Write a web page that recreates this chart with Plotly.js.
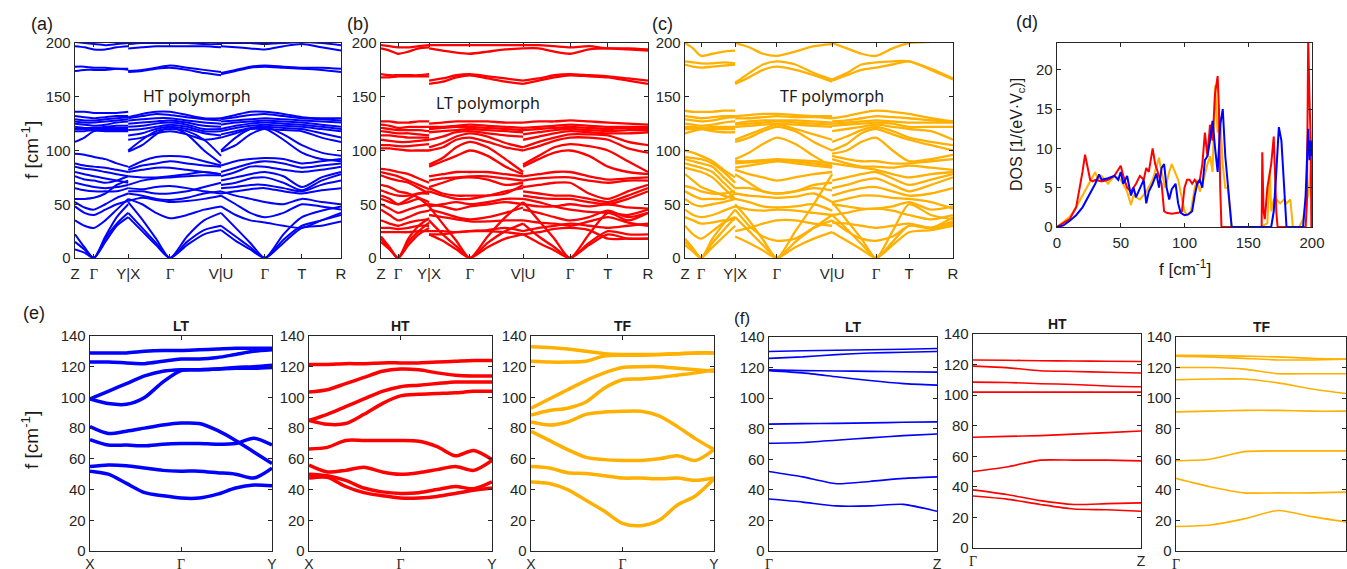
<!DOCTYPE html>
<html><head><meta charset="utf-8">
<script src="https://cdn.plot.ly/plotly-3.0.1.min.js"></script>
<style>html,body{margin:0;padding:0;background:#fff;}#plot{width:1347px;height:569px;}</style>
</head><body><div id="plot"></div>
<script>
// ---------- k-path tick positions (fraction of path) ----------
const kTicksHT = [0, 0.071, 0.2, 0.357, 0.549, 0.714, 0.853, 1];
const kTicksLT = [0, 0.064, 0.18, 0.333, 0.532, 0.708, 0.85, 1];
const kTicksTF = [0, 0.06, 0.187, 0.343, 0.549, 0.713, 0.836, 1];
const pathLabels = ["Z", "Γ", "Y|X", "Γ", "V|U", "Γ", "T", "R"];

// bands: knots Z,mid,Γ,1/3,2/3,Y | X,1/3,2/3,Γ,1/3,2/3,V | U,1/3,2/3,Γ,mid,T,mid,R
const bandsHT = [
 [22,10,0,15,30,38, 38,25,12,0,12,22,26, 26,16,8,0,14,28,30,34],
 [15,8,0,18,32,42, 42,28,14,0,15,26,30, 30,20,10,0,17,30,35,40],
 [8,5,0,20,38,50, 52,36,18,0,20,35,42, 42,28,14,0,22,38,44,48],
 [35,30,28,35,45,55, 55,50,42,37,40,45,48, 48,40,35,33,30,28,35,42],
 [48,42,40,45,50,53, 53,56,54,52,53,55,58, 58,50,42,38,42,50,48,45],
 [52,47,45,50,56,60, 60,58,55,54,56,60,62, 62,58,55,52,50,55,52,50],
 [55,55,56,60,68,72, 62,62,60,60,62,66,70, 60,62,64,65,62,60,63,65],
 [65,63,62,62,62,65, 65,64,66,67,65,62,60, 65,66,68,68,65,62,68,72],
 [70,68,66,65,66,68, 68,72,74,75,76,77,77, 68,70,74,75,70,63,72,78],
 [76,73,72,70,72,76, 76,75,75,76,78,80,78, 72,75,78,80,76,66,75,80],
 [80,78,76,74,72,70, 80,82,84,84,82,80,78, 76,80,85,85,82,80,82,85],
 [85,83,82,80,78,76, 82,86,88,90,88,86,85, 80,84,88,90,88,84,86,88],
 [88,86,85,84,82,80, 84,90,94,95,94,90,86, 86,90,92,93,92,88,90,92],
 [97,96,94,92,88,85, 99,105,115,122,115,100,88, 99,105,115,120,110,98,92,90],
 [108,112,118,118,118,118, 100,110,118,120,118,110,95, 100,112,120,122,115,105,98,95],
 [118,118,119,119,119,119, 110,112,116,118,115,110,112, 112,116,120,120,119,118,112,108],
 [120,120,120,121,121,121, 114,116,120,122,120,116,114, 115,118,121,122,121,120,116,112],
 [122,121,121,122,123,123, 119,120,122,124,122,118,118, 118,121,123,124,123,122,120,118],
 [125,124,123,124,126,127, 122,123,125,126,124,120,120, 120,123,125,126,125,124,122,120],
 [127,126,126,127,128,129, 125,126,127,128,126,123,122, 124,126,127,128,127,126,124,122],
 [129,128,128,129,130,131, 128,129,130,130,128,126,125, 127,128,129,130,129,128,127,126],
 [132,131,130,131,132,132, 130,132,134,133,131,129,128, 129,131,133,134,132,130,129,128],
 [136,136,135,135,135,136, 131,134,136,136,133,130,130, 130,133,136,136,134,131,130,130],
 [174,175,175,175,176,175, 173,174,176,177,175,172,170, 171,174,177,178,177,176,175,173],
 [178,178,177,177,176,176, 174,175,177,179,177,175,173, 172,175,178,179,178,177,177,176],
 [197,196,194,194,196,197, 195,196,197,197,197,197,196, 197,196,195,194,197,199,196,193],
 [201,200,199,198,199,200, 199,200,200,200,200,199,199, 200,200,200,199,200,201,200,198]
];
const bandsLT = [
 [15,8,0,12,22,28, 22,16,8,0,10,18,22, 22,14,7,0,12,22,18,18],
 [18,9,0,15,25,33, 35,22,11,0,14,25,32, 32,20,10,0,14,25,22,22],
 [20,10,0,18,30,37, 48,32,16,0,20,38,52, 52,35,18,0,22,42,35,42],
 [28,28,27,28,30,30, 22,22,24,25,25,24,22, 22,24,27,28,26,18,18,18],
 [24,24,24,24,25,25, 25,25,24,25,26,28,25, 25,28,30,32,30,28,30,32],
 [35,32,30,33,35,36, 40,38,36,34,34,35,35, 35,33,32,30,34,38,33,30],
 [45,40,35,38,42,44, 45,42,38,36,38,42,47, 45,42,38,35,38,44,38,42],
 [50,46,42,45,48,50, 48,50,52,50,52,55,55, 55,52,48,45,43,42,40,45],
 [55,52,50,52,55,48, 50,48,45,48,50,52,50, 50,48,48,50,48,50,47,46],
 [58,55,50,55,60,62, 62,58,55,55,58,62,65, 58,56,55,55,52,50,55,62],
 [63,60,58,58,60,60, 65,60,58,58,58,60,68, 62,60,58,58,55,52,58,65],
 [68,66,62,60,56,52, 66,70,74,75,73,68,70, 66,68,70,70,60,55,62,68],
 [77,74,72,70,65,60, 72,74,75,76,76,74,72, 72,74,75,75,72,70,72,72],
 [80,78,76,72,68,64, 76,78,80,80,80,78,76, 76,78,80,80,76,73,74,75],
 [83,82,80,78,74,70, 85,90,95,100,95,85,78, 85,92,98,100,95,85,80,78],
 [102,102,101,100,100,100, 87,93,103,108,103,92,80, 87,95,103,106,104,100,90,80],
 [105,105,104,104,105,106, 100,103,110,112,108,103,100, 100,104,109,112,112,110,102,98],
 [110,109,108,108,109,110, 103,107,113,116,113,107,103, 103,108,112,115,115,114,108,105],
 [114,114,113,112,112,112, 110,113,117,118,116,114,113, 110,113,116,118,117,116,116,117],
 [118,117,116,116,115,114, 117,118,119,120,119,118,117, 115,117,119,120,119,118,119,119],
 [121,120,119,119,119,118, 120,121,122,122,121,120,119, 119,120,121,122,121,120,121,121],
 [124,123,121,122,122,122, 122,122,123,124,123,122,121, 121,122,123,124,123,122,122,122],
 [127,127,126,126,127,127, 125,126,127,127,127,126,126, 126,127,127,128,127,126,125,124],
 [168,168,169,169,169,169, 162,164,168,170,167,164,162, 162,165,168,170,169,168,165,162],
 [171,170,170,170,170,171, 165,167,170,171,169,167,165, 165,167,170,171,170,169,167,165],
 [195,193,190,192,195,196, 195,193,191,190,192,194,195, 195,195,192,190,194,195,194,193],
 [198,197,196,196,197,198, 198,198,198,198,198,198,198, 198,198,197,196,197,195,195,194]
];
const bandsTF = [
 [12,6,0,10,20,30, 20,14,7,0,10,18,24, 24,16,8,0,12,24,26,30],
 [15,8,0,14,26,38, 38,25,12,0,15,28,40, 40,27,13,0,15,30,28,34],
 [18,9,0,18,32,45, 50,35,17,0,25,50,78, 52,35,18,0,25,50,40,36],
 [30,22,18,25,33,38, 45,30,20,16,18,28,35, 35,25,18,16,20,30,28,38],
 [38,35,32,33,35,36, 25,28,32,35,35,32,30, 33,32,30,28,30,32,28,32],
 [45,40,38,40,44,48, 48,45,44,45,44,42,40, 40,42,45,46,44,40,36,40],
 [55,50,48,50,52,55, 55,52,48,47,48,50,44, 50,48,46,46,48,52,45,48],
 [62,58,55,55,55,60, 60,58,57,56,57,60,52, 52,55,58,58,56,55,52,46],
 [67,65,62,60,60,62, 65,65,62,60,62,65,63, 58,62,65,66,62,58,60,65],
 [78,72,66,62,58,55, 78,70,62,60,62,68,70, 65,68,72,74,68,62,68,75],
 [84,82,80,75,65,55, 82,78,75,72,75,78,80, 72,75,78,80,74,68,73,78],
 [88,86,84,80,70,60, 84,86,88,90,88,86,84, 88,86,84,82,78,75,78,80],
 [92,90,88,85,75,65, 88,89,90,91,90,88,86, 92,88,85,85,84,86,84,82],
 [94,93,92,88,80,70, 90,90,91,92,91,90,88, 95,92,90,90,88,88,90,92],
 [100,98,95,90,82,75, 92,98,106,112,106,95,85, 97,100,108,112,100,90,92,96],
 [116,118,120,118,117,117, 108,112,118,122,118,108,100, 100,106,116,120,115,110,105,100],
 [120,120,120,120,120,120, 110,115,120,124,120,115,110, 108,113,119,122,118,112,108,105],
 [122,122,121,122,122,122, 122,123,124,125,124,123,122, 118,120,122,124,122,120,118,110],
 [125,124,123,124,126,127, 124,125,126,127,126,125,124, 123,124,125,126,125,122,122,122],
 [129,128,127,128,130,131, 125,127,128,128,128,127,126, 125,126,127,128,127,126,126,126],
 [132,131,130,131,132,132, 130,130,131,132,131,131,130, 127,128,130,132,131,130,128,127],
 [137,136,136,136,137,137, 132,133,134,134,133,132,132, 130,132,135,137,136,134,130,127],
 [180,178,177,178,179,180, 162,168,175,178,175,170,164, 165,170,175,177,180,183,175,166],
 [183,182,181,181,182,181, 163,172,180,183,180,172,166, 166,172,180,182,183,183,176,167],
 [200,195,188,190,192,193, 200,196,190,188,192,197,199, 200,195,190,188,195,200,201,202]
];

// ---------- DOS (d) ----------
const freqLT = [0,5,10,15,18,20,22,24,26,28,30,35,40,45,50,52,55,58,60,62,65,68,70,72,75,77,80,82,84,86,90,95,98,100,102,104,106,108,110,112,114,116,118,120,122,124,126,127,128,129,160.5,161,162,163,165,167,168,170,171,172,173,195,196,197,198,199,199.5,200];
const dosLT  = [0,0.5,1,2.5,5,7,9.2,7.5,6,5.8,6,5.8,6,6.5,7.8,6.5,5,4.5,5,5.5,6.5,6,7.5,7,10,8,6.5,5.5,2,1.8,1.7,1.8,2,5,6,6,5.5,6,5.5,6,8,12,9,13,11,17,19.2,15,5,0,0,9.5,2,1,5,7,8,11.5,5,2,0,0,3,24,16.5,11,0,0];
const freqTF = [0,5,10,15,20,25,30,32,35,40,45,50,55,58,60,65,70,75,78,80,82,85,88,90,95,100,102,105,108,110,112,115,118,120,122,124,126,128,130,132,134,136,137,160,165,167,168,170,172,175,178,180,183,185,190,193,195,197,199,200];
const dosTF  = [0,0.6,1.3,2.5,4,5.5,7,6,6.5,5.5,6.5,6,4.5,2.8,4,3.5,4.5,6,7.5,8.8,7,5,7,8,6,2,1.5,2,5,6,4.5,6,8,9,7,18,12,14,8,5,5,2,0,0,0.5,7,2,3.5,3.5,3,3.5,3,3.5,0,0,1,3,4,7,9];
const freqHT = [0,5,10,15,20,25,30,33,35,40,45,48,50,52,55,58,60,62,65,68,70,72,75,78,80,82,84,86,88,90,93,95,97,100,103,106,108,110,112,114,116,118,120,122,124,126,128,130,132,134,136,137,168,170,172,174,176,178,180,193,195,197,198,199,200];
const dosHT  = [0,0.2,0.8,1.5,2.5,4,5.5,6.7,6,6.2,6.5,6,7,5.5,6.5,4,5,3.8,5,6,3,4.5,5.5,6.8,5,7.5,8,5,3.5,4.8,5.5,3,1.8,1.5,1.6,2,4,5.5,6,5,8.5,9,11,13.5,10,7,13,15,9,5,2,0,0,2,7,12.7,11,5,0,0,4,12.5,8.5,11,9];

// ---------- (e) X-Γ-Y paths ----------
const eX = [0,0.1,0.2,0.3,0.4,0.5,0.6,0.7,0.8,0.9,1];
const eTickVals = [0, 0.5, 1];
const eTickText = ["X", "Γ", "Y"];
const eLT = [
 [129,129,129,130,130.5,130.5,131,131.5,132,132,132],
 [123,123,122.5,122,123.5,125,125,126,128,130,131],
 [99,104,109,114,117,118,118,118.5,119,119,119.5],
 [99,96,95.5,100,110,117.5,118,118.5,119.5,120,121],
 [81,76.5,78,80,82,83.3,83,78.5,72,64.5,57],
 [72.5,69,69,68.5,69.5,70,70,69.5,70,73.5,69],
 [55,56,55.5,54,52.5,52,52,51,50,47.5,54],
 [52,50,44,38,36,34.5,34.5,37,41,43,42.5]
];
const eHT = [
 [121.5,121.5,122,122,122.5,122.5,122.5,123,123.5,124,124],
 [103.5,105,109,113,117,118.5,118,116,114.5,114,114],
 [85,89,94,99,104,107,108,109,110,110,110],
 [85,82.5,83,89,96,101,102,102.5,103,104,104],
 [66.5,67.5,72,72,72,72,71.5,68,62,65.5,59.5],
 [56,51.5,52.5,54.5,51.5,50,51,53,55,52.5,59],
 [50,49,46,41,38.5,37.5,38,40,42,40.5,45],
 [47.5,48,42,38,36,34.5,34.5,35.5,37.5,39.5,41]
];
const eTF = [
 [133,132.5,131.5,130,128.5,128,128,128,128.5,129,129],
 [123.5,123,123,123.5,127,127.5,127.5,128,128.5,129,129],
 [93,99,105,111,116,119.5,120,120,119,118,117],
 [88.5,91.5,93,97,106,111.5,112,113,114.5,116,118],
 [84,82,84,89,90.5,91,91,88,81,73,66],
 [78,72,66,61,59.5,59,59,60,62,59,66],
 [55,54,51,50.5,49,47.5,47.5,47,47.5,46,47.5],
 [45,44,40,33,26,18,16.5,20,30,36,47]
];

// ---------- (f) Γ-Z paths ----------
const fX = [0,0.2,0.4,0.6,0.8,1];
const fTickVals = [0, 1];
const fTickText = ["Γ", "Z"];
const fLT = [
 [130.5,131,131.3,131.7,132,132.5],
 [126,127,128.5,129.5,130,130.5],
 [118.5,118,117.8,117.5,117.3,117],
 [118,116.5,114,111.5,109.5,108.5],
 [83,83.3,83.5,83.8,84.2,84.5],
 [70.5,71,72.5,74,75.5,76.5],
 [52,48.5,44,45.5,47.5,48.5],
 [34,32,29.5,29.5,30.5,26]
];
const fHT = [
 [123,122.8,122.5,122.3,122.2,122],
 [119,118,116,115.5,115,114.5],
 [108.5,108.3,107.5,107,106,105.5],
 [102,102,102,102,102,102],
 [72.5,73,73.5,74.5,75.5,76.5],
 [50,53,57.5,57.5,57.5,57],
 [38,35,31,28.5,29,29.5],
 [34,32,28.5,25.5,25,24]
];
const fTF = [
 [128,127.8,127.5,127,126,125.5],
 [127.5,127,126,125,125,125.5],
 [120,120,119,116,116,116],
 [112,112.5,112.5,110,106,103],
 [91,91.5,92,92,91.5,91.5],
 [59,60,65,65.5,65.5,65.5],
 [47.5,42,38,38,38,38.5],
 [16,17,21,26.5,22.5,19]
];

// ---------- colours ----------
const cBlue = "#0000ff", cRed = "#ff0000", cOrange = "#ffb000";

// ---------- build ----------
const W = 1347, H = 569;
const px = v => v / W, py = v => 1 - v / H;
const axCol = "#262626";
const FONT = "Liberation Sans, Arial, sans-serif";
const gam = '<span style="font-family:\'Liberation Serif\',serif">Γ</span>';
const fmtLab = l => l === "Γ" ? gam : l;

function kKnots(t) {
  const [Z, G1, YX, G2, VU, G3, T, R] = t;
  const l = (a, b, f) => a + (b - a) * f;
  return [[Z, l(Z, G1, .5), G1, l(G1, YX, 1/3), l(G1, YX, 2/3), YX],
          [YX, l(YX, G2, 1/3), l(YX, G2, 2/3), G2, l(G2, VU, 1/3), l(G2, VU, 2/3), VU],
          [VU, l(VU, G3, 1/3), l(VU, G3, 2/3), G3, l(G3, T, .5), T, l(T, R, .5), R]];
}
function bandTrace(bands, ticks, color, width, n) {
  const segs = kKnots(ticks);
  const x = [], y = [];
  bands.forEach(b => {
    let i = 0;
    segs.forEach(seg => { seg.forEach(k => { x.push(k); y.push(b[i++]); }); x.push(null); y.push(null); });
  });
  return {type: "scatter", mode: "lines", x, y, xaxis: "x" + n, yaxis: "y" + n,
    line: {color, width, shape: "spline", smoothing: 0.7}, hoverinfo: "skip", showlegend: false, connectgaps: false};
}
function simpleTrace(xs, bands, color, width, n, smooth) {
  const x = [], y = [];
  bands.forEach(b => { b.forEach((v, i) => { x.push(xs[i]); y.push(v); }); x.push(null); y.push(null); });
  return {type: "scatter", mode: "lines", x, y, xaxis: "x" + n, yaxis: "y" + n,
    line: {color, width, shape: "spline", smoothing: smooth}, hoverinfo: "skip", showlegend: false};
}

const traces = [
  bandTrace(bandsHT, kTicksHT, cBlue, 2, ""),
  bandTrace(bandsLT, kTicksLT, cRed, 2.3, "2"),
  bandTrace(bandsTF, kTicksTF, cOrange, 2.3, "3"),
  {type: "scatter", mode: "lines", x: freqTF, y: dosTF, xaxis: "x4", yaxis: "y4", line: {color: cOrange, width: 2}, showlegend: false, hoverinfo: "skip"},
  {type: "scatter", mode: "lines", x: freqLT, y: dosLT, xaxis: "x4", yaxis: "y4", line: {color: cRed, width: 2}, showlegend: false, hoverinfo: "skip"},
  {type: "scatter", mode: "lines", x: freqHT, y: dosHT, xaxis: "x4", yaxis: "y4", line: {color: cBlue, width: 2}, showlegend: false, hoverinfo: "skip"},
  simpleTrace(eX, eLT, cBlue, 3.5, "5", 0.8),
  simpleTrace(eX, eHT, cRed, 3.5, "6", 0.8),
  simpleTrace(eX, eTF, cOrange, 3.5, "7", 0.8),
  simpleTrace(fX, fLT, cBlue, 1.6, "8", 0.6),
  simpleTrace(fX, fHT, cRed, 1.6, "9", 0.6),
  simpleTrace(fX, fTF, cOrange, 1.6, "10", 0.6)
];
traces[0].xaxis = "x"; traces[0].yaxis = "y";

const baseAx = {showline: true, mirror: "ticks", linecolor: axCol, linewidth: 1.3, ticks: "inside",
  ticklen: 4, tickcolor: axCol, zeroline: false, showgrid: false, fixedrange: true,
  tickfont: {family: FONT, size: 15, color: axCol}};
function ax(extra) { return Object.assign({}, baseAx, extra); }

const layout = {width: W, height: H, margin: {l: 0, r: 0, t: 0, b: 0}, paper_bgcolor: "#fff", plot_bgcolor: "#fff",
  font: {family: FONT, color: axCol}, showlegend: false};

const yTop = [0, 50, 100, 150, 200], yBot = [0, 20, 40, 60, 80, 100, 120, 140];
const panels = [
  ["", 75, 341, 43, 258, {range: [0, 1], tickvals: kTicksHT, ticktext: pathLabels.map(fmtLab)}, {range: [0, 200], tickvals: yTop}],
  ["2", 381, 648, 43, 258, {range: [0, 1], tickvals: kTicksLT, ticktext: pathLabels.map(fmtLab)}, {range: [0, 200], tickvals: yTop}],
  ["3", 685, 953, 43, 258, {range: [0, 1], tickvals: kTicksTF, ticktext: pathLabels.map(fmtLab)}, {range: [0, 200], tickvals: yTop}],
  ["4", 1057, 1312, 43, 227, {range: [0, 200], tickvals: [0, 50, 100, 150, 200]}, {range: [0, 23.4], tickvals: [0, 5, 10, 15, 20]}],
  ["5", 90, 272, 336, 551, {range: [0, 1], tickvals: eTickVals, ticktext: eTickText.map(fmtLab)}, {range: [0, 140], tickvals: yBot}],
  ["6", 309, 492, 336, 551, {range: [0, 1], tickvals: eTickVals, ticktext: eTickText.map(fmtLab)}, {range: [0, 140], tickvals: yBot}],
  ["7", 531, 714, 336, 551, {range: [0, 1], tickvals: eTickVals, ticktext: eTickText.map(fmtLab)}, {range: [0, 140], tickvals: yBot}],
  ["8", 769, 937, 337, 551, {range: [0, 1], tickvals: fTickVals, ticktext: fTickText.map(fmtLab)}, {range: [0, 140], tickvals: yBot}],
  ["9", 973, 1141, 334, 548, {range: [0, 1], tickvals: fTickVals, ticktext: fTickText.map(fmtLab)}, {range: [0, 140], tickvals: yBot}],
  ["10", 1176, 1346, 337, 551, {range: [0, 1], tickvals: fTickVals, ticktext: fTickText.map(fmtLab)}, {range: [0, 140], tickvals: yBot}]
];
panels.forEach(([n, x0, x1, yt, yb, xc, yc], i) => {
  const small = i >= 4;
  layout["xaxis" + n] = ax(Object.assign({domain: [px(x0), px(x1)], anchor: "y" + n, tickmode: "array", ticklabelstandoff: small ? 0 : 2,
    tickfont: {family: FONT, size: small ? 14 : 15, color: axCol}}, xc));
  layout["yaxis" + n] = ax(Object.assign({domain: [py(yb), py(yt)], anchor: "x" + n, tickmode: "array",
    tickfont: {family: FONT, size: 15, color: axCol}}, yc));
});

const A = (x, y, text, size, extra) => Object.assign({x: px(x), y: py(y), xref: "paper", yref: "paper", text, showarrow: false,
  font: {family: FONT, size, color: "#1a1a1a"}, xanchor: "center", yanchor: "middle"}, extra || {});
const polyFont = {family: "Noto Sans", size: 16, color: "#1a1a1a"};
layout.annotations = [
  A(42, 24, "(a)", 18), A(358, 24, "(b)", 18), A(662, 24, "(c)", 18), A(1027, 22, "(d)", 18),
  A(34, 313, "(e)", 18), A(742, 318, "(f)", 17),
  A(197, 96, "HT polymorph", 16, {font: polyFont}),
  A(488, 103, "LT polymorph", 16, {font: polyFont}),
  A(832, 96, "TF polymorph", 16, {font: polyFont}),
  A(30, 150, "f [cm<sup>-1</sup>]", 19, {textangle: -90}),
  A(30, 440, "f [cm<sup>-1</sup>]", 19, {textangle: -90}),
  A(1018, 135, "DOS [1/(eV·V<sub>c</sub>)]", 16, {textangle: -90}),
  A(1185, 268, "f [cm<sup>-1</sup>]", 17),
  A(181, 326, "<b>LT</b>", 14), A(400, 326, "<b>HT</b>", 14), A(623, 326, "<b>TF</b>", 14),
  A(853, 327, "<b>LT</b>", 14), A(1057, 324, "<b>HT</b>", 14), A(1262, 327, "<b>TF</b>", 14)
];

Plotly.newPlot("plot", traces, layout, {displayModeBar: false, staticPlot: true});
</script></body></html>
